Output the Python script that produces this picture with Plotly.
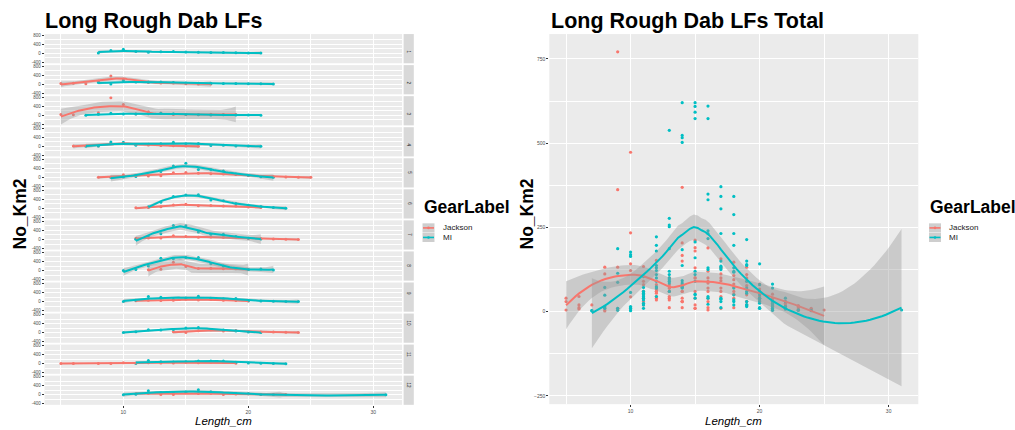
import numpy as np
import plotly.graph_objects as go

W, H = 1015, 430

# ---- data: density (No_Km2) by length class, one list per facet (1..12) ----
FACETS = list(range(1, 13))

jackson_len = [
    [],
    [5, 6, 7, 8, 9, 10, 11, 12, 13, 14, 15, 16, 17],
    [5, 6, 8, 9, 10, 11, 12, 13, 14, 15, 16, 17, 18, 19],
    [6, 8, 9, 10, 11, 12, 13, 14, 15, 16],
    [8, 9, 10, 11, 12, 13, 14, 15, 16, 17, 18, 19, 20, 21, 22, 23, 24, 25],
    [11, 12, 13, 14, 15, 16, 17, 18, 19, 20, 21],
    [11, 12, 13, 14, 15, 16, 17, 18, 19, 20, 21, 22, 23, 24],
    [12, 13, 14, 15, 16, 17, 18, 19, 20],
    [11, 12, 13, 14, 15, 16, 17, 18, 19, 20],
    [14, 15, 16, 17, 18, 19, 20, 21, 22, 23, 24],
    [5, 6, 8, 9, 10, 11, 12, 13, 14, 15, 16, 17, 18, 19],
    [11, 12, 13, 14, 15, 16, 17, 18, 19, 20, 21, 22, 23],
]
jackson_val = [
    [],
    [30, 45, 20, 132, 362, 234, 134, 80, 60, 60, 20, 12, 10],
    [40, 20, 112, 771, 473, 60, 152, 100, 30, 40, 30, 45, 40, 30],
    [12, 12, 132, 142, 80, 60, 40, 30, 10, 5],
    [2, 10, 122, 90, 60, 70, 204, 212, 189, 157, 147, 132, 82, 52, 30, 18, 10, 5],
    [30, 40, 80, 150, 190, 120, 130, 107, 110, 67, 40],
    [60, 70, 70, 167, 130, 100, 112, 95, 100, 55, 35, 20, 12, 5],
    [35, 60, 369, 180, 90, 100, 82, 77, 45],
    [40, 55, 45, 60, 100, 70, 92, 60, 50, 32],
    [40, 10, 85, 130, 72, 90, 60, 30, 25, 15, 8],
    [5, 8, 5, 8, 44, 20, 45, 35, 30, 60, 40, 60, 52, 20],
    [50, 65, 12, 12, 100, 60, 70, 12, 30, 40, 17, 10, 8],
]

mi_len = [
    [8, 9, 10, 11, 12, 13, 14, 15, 16, 17, 18, 19, 20, 21],
    [8, 9, 10, 11, 12, 13, 14, 15, 16, 17, 18, 19, 20, 21, 22],
    [7, 8, 9, 10, 11, 12, 13, 14, 15, 16, 17, 18, 19, 20, 21],
    [7, 8, 9, 10, 11, 12, 13, 14, 15, 16, 17, 18, 19, 20, 21],
    [9, 10, 11, 12, 13, 14, 15, 16, 17, 18, 19, 20, 21, 22],
    [12, 13, 14, 15, 16, 17, 18, 19, 20, 21, 22, 23],
    [11, 12, 13, 14, 15, 16, 17, 18, 19, 20, 21],
    [10, 11, 12, 13, 14, 15, 16, 17, 18, 19, 20, 21, 22],
    [10, 11, 12, 13, 14, 15, 16, 17, 18, 19, 20, 21, 22, 23, 24],
    [10, 11, 12, 13, 14, 15, 16, 17, 18, 19, 20, 21],
    [11, 12, 13, 14, 15, 16, 17, 18, 19, 20, 21, 22, 23],
    [10, 11, 12, 13, 14, 15, 16, 17, 18, 19, 20, 21, 22, 31],
]
mi_val = [
    [10, 114, 169, 72, 45, 60, 80, 50, 40, 30, 30, 20, 10, 8],
    [72, 10, 164, 104, 100, 95, 72, 52, 45, 40, 35, 30, 25, 20, 15],
    [3, 49, 87, 57, 60, 70, 85, 70, 40, 22, 12, 20, 15, 10, 4],
    [3, 15, 187, 177, 50, 90, 110, 184, 110, 130, 37, 50, 20, 12, 5],
    [4, 15, 40, 122, 257, 502, 620, 349, 342, 288, 150, 80, 30, 8],
    [74, 277, 523, 592, 610, 371, 342, 214, 142, 82, 40, 5],
    [10, 110, 252, 620, 609, 332, 232, 232, 137, 60, 20],
    [5, 45, 197, 538, 516, 573, 573, 305, 197, 90, 50, 70, 30],
    [10, 55, 222, 187, 92, 160, 240, 150, 130, 140, 40, 25, 15, 5, 3],
    [12, 35, 130, 120, 137, 207, 232, 135, 117, 70, 30, 10],
    [25, 137, 90, 75, 90, 125, 125, 120, 60, 35, 20, 10, 4],
    [3, 20, 180, 100, 85, 120, 217, 130, 70, 55, 40, 15, 8, 5],
]

GEARS = ["Jackson", "MI"]
COLORS = {"Jackson": "#F8766D", "MI": "#00BFC4"}
RIBBON = "rgba(153,153,153,0.4)"
FONT = "Liberation Sans, Arial, sans-serif"


# ---- loess smoother (local quadratic, tricube weights, span 0.75) ----
def t975(df):
    z = 1.959964
    g1 = (z**3 + z) / 4
    g2 = (5 * z**5 + 16 * z**3 + 3 * z) / 96
    g3 = (3 * z**7 + 19 * z**5 + 17 * z**3 - 15 * z) / 384
    g4 = (79 * z**9 + 776 * z**7 + 1482 * z**5 - 1920 * z**3 - 945 * z) / 92160
    df = max(df, 1.0)
    return z + g1 / df + g2 / df**2 + g3 / df**3 + g4 / df**4


def loess(x, y, span=0.75, n_out=80):
    x = np.asarray(x, float)
    y = np.asarray(y, float)
    n = len(x)
    q = max(int(np.floor(n * span)), 3)

    def row(x0):
        d = np.abs(x - x0)
        h = np.sort(d)[min(q, n) - 1]
        if h <= 0:
            h = 1e-9
        u = d / h
        w = np.where(u < 1, (1 - u**3) ** 3, 0.0)
        X = np.column_stack([np.ones(n), x - x0, (x - x0) ** 2])
        A = X.T @ (w[:, None] * X)
        return (np.linalg.pinv(A) @ (X.T * w))[0]

    L = np.vstack([row(v) for v in x])
    resid = y - L @ y
    IL = np.eye(n) - L
    M = IL.T @ IL
    d1 = np.trace(M)
    d2 = np.trace(M @ M)
    sigma = np.sqrt(np.sum(resid**2) / d1)
    tq = t975(d1**2 / d2)
    xs = np.linspace(x.min(), x.max(), n_out)
    Ls = np.vstack([row(v) for v in xs])
    fit = Ls @ y
    se = sigma * np.sqrt(np.sum(Ls**2, axis=1))
    return xs, fit, fit - tq * se, fit + tq * se


def px(v):
    return v / W


def py(v):
    return 1 - v / H


fig = go.Figure()


def add_points(xs_pts, ys_pts, gear, xa, ya, msize):
    fig.add_trace(go.Scatter(
        x=xs_pts, y=ys_pts, mode="markers", xaxis=xa, yaxis=ya,
        marker=dict(color=COLORS[gear], size=msize, line=dict(width=0)),
        hoverinfo="skip"))


def add_smooth(xs_pts, ys_pts, gear, xa, ya, lw):
    xs, fit, lo, hi = loess(xs_pts, ys_pts)
    fig.add_trace(go.Scatter(
        x=np.concatenate([xs, xs[::-1]]), y=np.concatenate([hi, lo[::-1]]),
        mode="lines", fill="toself", fillcolor=RIBBON, line=dict(width=0),
        xaxis=xa, yaxis=ya, hoverinfo="skip"))
    fig.add_trace(go.Scatter(
        x=xs, y=fit, mode="lines", xaxis=xa, yaxis=ya,
        line=dict(color=COLORS[gear], width=lw), hoverinfo="skip"))


# ---- left: faceted panels ----
LEFT_X0, LEFT_X1 = 44.6, 402.1
TOP0, PANEL_H, STEP = 33.3, 29.4, 31.27
XRANGE = [3.7, 32.3]

layout = dict(
    width=W, height=H, margin=dict(l=0, r=0, t=0, b=0),
    paper_bgcolor="white", plot_bgcolor="#EBEBEB", showlegend=False,
    font=dict(family=FONT, color="#1A1A1A"),
)
shapes = []
annotations = []

for k, f in enumerate(FACETS):
    i = k + 1
    xa, ya = f"x{i}", f"y{i}"
    top = TOP0 + k * STEP
    bot = top + PANEL_H
    data = {"Jackson": (jackson_len[k], jackson_val[k]), "MI": (mi_len[k], mi_val[k])}
    for g in GEARS:
        if data[g][0]:
            add_points(data[g][0], data[g][1], g, xa, ya, 3)
    for g in GEARS:
        if data[g][0]:
            add_smooth(data[g][0], data[g][1], g, xa, ya, 2)
    last = i == len(FACETS)
    layout[f"xaxis{i}"] = dict(
        domain=[px(LEFT_X0), px(LEFT_X1)], range=XRANGE, anchor=ya,
        showgrid=True, gridcolor="white", gridwidth=1, zeroline=False,
        tickvals=[10, 20, 30], showticklabels=last,
        ticks="outside" if last else "", ticklen=2, tickwidth=0.6, tickcolor="#333333",
        tickfont=dict(size=5, color="#4D4D4D"),
        minor=dict(tickvals=[5, 15, 25], showgrid=True, gridcolor="white", gridwidth=0.5),
    )
    layout[f"yaxis{i}"] = dict(
        domain=[py(bot), py(top)], range=[-444, 844], anchor=xa,
        showgrid=True, gridcolor="white", gridwidth=1, zeroline=False,
        tickvals=[-400, 0, 400, 800], ticktext=["-400", "0", "400", "800"],
        ticks="outside", ticklen=2, tickwidth=0.6, tickcolor="#333333",
        tickfont=dict(size=4.5, color="#4D4D4D"),
        minor=dict(tickvals=[-200, 200, 600], showgrid=True, gridcolor="white", gridwidth=0.5),
    )
    # facet strip on the right
    shapes.append(dict(type="rect", xref="paper", yref="paper",
                       x0=px(403.6), x1=px(413.8), y0=py(bot), y1=py(top),
                       fillcolor="#D9D9D9", line=dict(width=0), layer="below"))
    annotations.append(dict(x=px(408.7), y=py((top + bot) / 2), xref="paper", yref="paper",
                            text=str(f), showarrow=False, textangle=90,
                            font=dict(size=4.5, color="#1A1A1A")))

# ---- right: all facets pooled ----
ri = len(FACETS) + 1
rxa, rya = f"x{ri}", f"y{ri}"
all_j_x = [v for lst in jackson_len for v in lst]
all_j_y = [v for lst in jackson_val for v in lst]
all_m_x = [v for lst in mi_len for v in lst]
all_m_y = [v for lst in mi_val for v in lst]
add_points(all_j_x, all_j_y, "Jackson", rxa, rya, 3.2)
add_points(all_m_x, all_m_y, "MI", rxa, rya, 3.2)
add_smooth(all_j_x, all_j_y, "Jackson", rxa, rya, 2)
add_smooth(all_m_x, all_m_y, "MI", rxa, rya, 2)

layout[f"xaxis{ri}"] = dict(
    domain=[px(549.3), px(918.3)], range=XRANGE, anchor=rya,
    showgrid=True, gridcolor="white", gridwidth=1, zeroline=False,
    tickvals=[10, 20, 30], ticks="outside", ticklen=2, tickwidth=0.6, tickcolor="#333333",
    tickfont=dict(size=5, color="#4D4D4D"),
    minor=dict(tickvals=[5, 15, 25], showgrid=True, gridcolor="white", gridwidth=0.5),
)
layout[f"yaxis{ri}"] = dict(
    domain=[py(406), py(33.3)], range=[-274.4, 823.6], anchor=rxa,
    showgrid=True, gridcolor="white", gridwidth=1, zeroline=False,
    tickvals=[-250, 0, 250, 500, 750], ticks="outside", ticklen=2, tickwidth=0.6,
    tickcolor="#333333", tickfont=dict(size=5, color="#4D4D4D"),
    minor=dict(tickvals=[-125, 125, 375, 625], showgrid=True, gridcolor="white", gridwidth=0.5),
)


# ---- titles, axis titles ----
def label(x, y, text, size, xanchor="left", angle=0, bold=False, italic=False, color="#000000"):
    t = text
    if bold:
        t = f"<b>{t}</b>"
    if italic:
        t = f"<i>{t}</i>"
    annotations.append(dict(x=px(x), y=py(y), xref="paper", yref="paper", text=t,
                            showarrow=False, xanchor=xanchor, yanchor="middle",
                            textangle=angle, font=dict(size=size, color=color)))


label(42.5, 20, "Long Rough Dab LFs", 21.5, bold=True)
label(548.5, 20, "Long Rough Dab LFs Total", 21.5, bold=True)
label(19, 215, "No_Km2", 17.5, xanchor="center", angle=-90, bold=True)
label(526, 215, "No_Km2", 17.5, xanchor="center", angle=-90, bold=True)
label(223.3, 422.5, "Length_cm", 11.5, xanchor="center", italic=True)
label(733.8, 422.5, "Length_cm", 11.5, xanchor="center", italic=True)

# ---- legends (one per panel) ----
for lx in (421.5, 928):
    label(lx, 207.5, "GearLabel", 17.5, bold=True)
    for j, g in enumerate(GEARS):
        cy = 228.5 + j * 9.6
        kx0, kx1 = lx + 1, lx + 13
        shapes.append(dict(type="rect", xref="paper", yref="paper",
                           x0=px(kx0), x1=px(kx1), y0=py(cy + 4.6), y1=py(cy - 4.6),
                           fillcolor="#CECECE", line=dict(width=0)))
        shapes.append(dict(type="line", xref="paper", yref="paper",
                           x0=px(kx0 + 0.5), x1=px(kx1 - 0.5), y0=py(cy), y1=py(cy),
                           line=dict(color=COLORS[g], width=1.6)))
        shapes.append(dict(type="circle", xref="paper", yref="paper",
                           x0=px((kx0 + kx1) / 2 - 1.3), x1=px((kx0 + kx1) / 2 + 1.3),
                           y0=py(cy + 1.3), y1=py(cy - 1.3),
                           fillcolor=COLORS[g], line=dict(width=0)))
        label(lx + 19, cy, g, 8, color="#1A1A1A")

layout["shapes"] = shapes
layout["annotations"] = annotations
fig.update_layout(**layout)
fig.write_html("out.html")
